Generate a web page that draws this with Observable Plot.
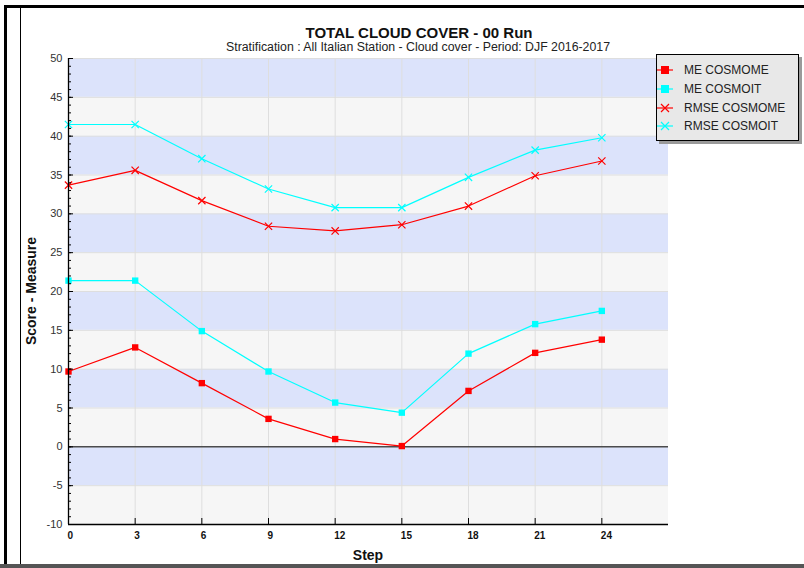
<!DOCTYPE html>
<html><head><meta charset="utf-8">
<script src="https://cdn.jsdelivr.net/npm/d3@7"></script>
<script src="https://cdn.jsdelivr.net/npm/@observablehq/plot@0.6"></script>
<style>
body{margin:0;background:#fff;font-family:"Liberation Sans",Arial,sans-serif;}
#wrap{position:relative;width:804px;height:568px;overflow:hidden;background:#fff;}
#wrap > svg{position:absolute;left:0;top:0;}
.fr{position:absolute;}
#legend{position:absolute;left:656px;top:54px;width:141px;height:85px;background:#e8e8e8;border:1px solid #000;box-shadow:3px 3px 0 #9a9a9a;}
.li{position:absolute;left:0;height:14px;display:flex;align-items:center;font-size:12px;color:#222;}
.li svg{margin-right:11px;}
</style></head><body><div id="wrap"></div>
<script>
const steps=[0,3,6,9,12,15,18,21,24];
const meCosmome=[9.7,12.8,8.2,3.6,1.0,0.1,7.2,12.1,13.8];
const meCosmoit=[21.4,21.4,14.9,9.7,5.7,4.4,12.0,15.8,17.5];
const rmseCosmome=[33.7,35.6,31.7,28.4,27.8,28.6,31.0,34.9,36.8];
const rmseCosmoit=[41.5,41.5,37.1,33.2,30.8,30.8,34.7,38.2,39.8];
const seriesNames=["ME COSMOME","ME COSMOIT","RMSE COSMOME","RMSE COSMOIT"];
const seriesValues=[meCosmome,meCosmoit,rmseCosmome,rmseCosmoit];
const seriesColors=["#ff0000","#00ffff","#ff0000","#00ffff"];
const seriesSymbols=["square","square","times","times"];
const yTicks=d3.range(-10,51,5);
const yMinor=d3.range(-10,51,1);
const xTicks=steps;
const bandStarts=d3.range(-10,50,5);
const bandColors=["#f6f6f6","#dce3fb"];
const titleText="TOTAL CLOUD COVER - 00 Run";
const subtitleText="Stratification : All Italian Station - Cloud cover - Period: DJF 2016-2017";
const xLabel="Step", yLabel="Score - Measure";

const rows=seriesNames.flatMap((name,i)=>steps.map((s,j)=>({series:name,idx:i,step:s,value:seriesValues[i][j]})));

const chart=Plot.plot({
  width:804,height:568,
  marginLeft:68,marginRight:136,marginTop:58,marginBottom:44,
  style:{fontFamily:'"Liberation Sans",Arial,sans-serif',background:"transparent",overflow:"visible"},
  x:{domain:[0,27],axis:null},
  y:{domain:[-10,50],axis:null},
  marks:[
    Plot.rect(bandStarts,{x1:0,x2:27,y1:d=>d,y2:d=>d+5,fill:(d,i)=>bandColors[i%2]}),
    Plot.ruleX(xTicks.slice(1),{stroke:"#dedede",strokeWidth:1}),
    Plot.ruleY(yTicks,{stroke:"#dedede",strokeWidth:1}),
    Plot.ruleY([0],{stroke:"#000",strokeWidth:1}),
    ...seriesNames.map((name,i)=>Plot.line(rows.filter(r=>r.idx===i),{x:"step",y:"value",stroke:seriesColors[i],strokeWidth:1.2})),
    ...seriesNames.map((name,i)=>seriesSymbols[i]==="square"
      ? Plot.dot(rows.filter(r=>r.idx===i),{x:"step",y:"value",symbol:"square",r:3.6,fill:seriesColors[i],stroke:"none"})
      : Plot.dot(rows.filter(r=>r.idx===i),{x:"step",y:"value",symbol:"times",r:3.4,stroke:seriesColors[i],strokeWidth:1.2})),
    Plot.ruleX([0],{stroke:"#000",strokeWidth:1.3}),
    Plot.ruleY([-10],{stroke:"#000",strokeWidth:1.3}),
    Plot.axisY({ticks:yMinor,tickSize:-3,text:null,stroke:"#000",label:null}),
    Plot.axisY({ticks:yTicks,tickSize:-5,text:null,stroke:"#000",label:null}),
    Plot.axisY({ticks:yTicks,tickSize:0,tickPadding:6,fontSize:11,fill:"#333",tickFormat:d=>String(d),label:null}),
    Plot.axisX({ticks:xTicks,tickSize:-6,text:null,stroke:"#000",label:null}),
    Plot.axisX({ticks:xTicks,tickSize:0,tickPadding:7,fontSize:10,fontWeight:"bold",fill:"#111",textAnchor:"start",dx:-1,tickFormat:d=>String(d),label:null})
  ]
});
const wrap=document.getElementById("wrap");
wrap.appendChild(chart);

// frame
const frames=[
  {l:4,t:5,w:800,h:3,c:"#000"},
  {l:4,t:5,w:3,h:561,c:"#000"},
  {l:20,t:5,w:1,h:561,c:"#000"},
  {l:0,t:564,w:804,h:4,c:"#555"}
];
frames.forEach(f=>{const d=document.createElement("div");d.className="fr";Object.assign(d.style,{left:f.l+"px",top:f.t+"px",width:f.w+"px",height:f.h+"px",background:f.c});wrap.appendChild(d);});

// texts overlay
const ov=d3.select(wrap).append("svg").attr("width",804).attr("height",568).style("pointer-events","none")
  .attr("font-family",'"Liberation Sans",Arial,sans-serif');
ov.append("text").attr("x",419).attr("y",38).attr("text-anchor","middle").attr("font-size",14).attr("font-weight","bold").attr("fill","#111")
  .attr("textLength",227).attr("lengthAdjust","spacingAndGlyphs").text(titleText);
ov.append("text").attr("x",418).attr("y",51).attr("text-anchor","middle").attr("font-size",12).attr("fill","#222")
  .attr("textLength",384).attr("lengthAdjust","spacingAndGlyphs").text(subtitleText);
ov.append("text").attr("x",368).attr("y",560).attr("text-anchor","middle").attr("font-size",14).attr("font-weight","bold").attr("fill","#111").text(xLabel);
ov.append("text").attr("transform","translate(36,291) rotate(-90)").attr("text-anchor","middle").attr("font-size",14).attr("font-weight","bold").attr("fill","#111")
  .text(yLabel);

// legend
const lg=document.createElement("div");lg.id="legend";wrap.appendChild(lg);
const rowTops=[8,27,46,64];
seriesNames.forEach((name,i)=>{
  const it=document.createElement("div");it.className="li";it.style.top=rowTops[i]+"px";
  const s=d3.create("svg").attr("width",16).attr("height",14);
  s.append("line").attr("x1",0).attr("x2",16).attr("y1",7).attr("y2",7).attr("stroke",seriesColors[i]).attr("stroke-width",1.2);
  if(seriesSymbols[i]==="square") s.append("rect").attr("x",4).attr("y",3).attr("width",8).attr("height",8).attr("fill",seriesColors[i]);
  else s.append("path").attr("d","M4,3L12,11M12,3L4,11").attr("stroke",seriesColors[i]).attr("stroke-width",1.2);
  it.appendChild(s.node());
  const t=document.createElement("span");t.textContent=name;it.appendChild(t);
  lg.appendChild(it);
});
</script></body></html>
